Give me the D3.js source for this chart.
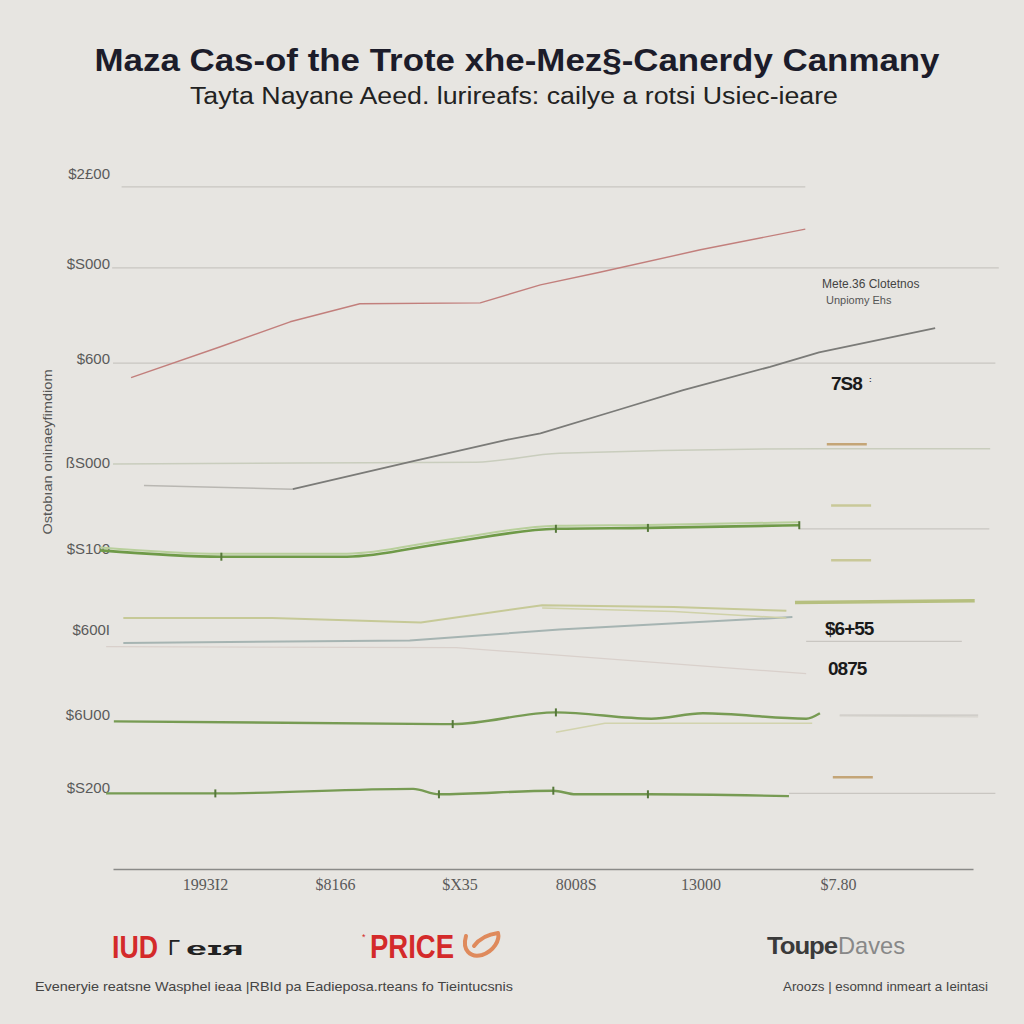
<!DOCTYPE html>
<html lang="en">
<head>
<meta charset="UTF-8">
<title>Maza Cas-of the Trote</title>
<style>
    body { margin: 0; background: #e7e5e1; }
    svg { display: block; }
    .tick-label { font-family: "Liberation Sans", Arial, sans-serif; font-size: 15px; fill: #5a5a5a; }
</style>
</head>
<body>
<svg id="chart" width="1024" height="1024"></svg>
<script src="https://d3js.org/d3.v7.min.js"></script>
<script>
// ---- data ----
var yTickValues = [773, 673, 567, 452, 356, 266, 171, 90];
var yTickLabels = ["$2£00", "$S000", "$600", "ßS000", "$S100", "$600I", "$6U00", "$S200"];
var xTickValues = [10.7, 25.8, 40.3, 53.8, 68.3, 84.3];
var xTickLabels = ["1993I2", "$8166", "$X35", "8008S", "13000", "$7.80"];
var gridValues = [758, 668, 562, 378, 253, 171, 84];

var redSeries = [[2.1, 546], [12.4, 580], [20.6, 608], [28.7, 628], [42.7, 629], [49.7, 649], [56.6, 663], [68.3, 688], [80.5, 711]];
var grayLead = [[3.6, 426], [20.9, 422]];
var graySeries = [[20.9, 422], [34.8, 453], [45.9, 477], [49.7, 484], [58.7, 510], [66.3, 532], [76.4, 558], [82.1, 574], [95.6, 601]];
var paleSeries = [[0, 450], [21.4, 451], [42.2, 452], [51.9, 462], [82.1, 467], [102, 467]];
var greenA = [[-1.5, 354], [12.6, 347], [27.2, 347], [38.5, 362], [51.5, 378], [62.2, 379], [79.8, 382]];
var khakiA = [[1.2, 279], [18.5, 279], [35.8, 274], [49.9, 293], [65.2, 291], [78.3, 287]];
var khakiB = [[49.9, 290], [65.2, 286], [78.3, 279]];
var khakiBar = [[79.3, 296], [100.2, 298]];
var blueSeries = [[1.2, 251], [34.5, 254], [51.9, 266], [79, 280]];
var pinkSeries = [[-0.8, 247], [39.9, 246], [80.6, 217]];
var greenB = [[0.1, 164], [39.5, 161], [51.5, 174], [62.6, 167], [68.6, 173], [80.6, 167], [82.2, 173]];
var greenBLight = [[51.5, 152], [57.2, 162], [81.3, 162]];
var greenBRight = [[84.5, 170], [100.6, 169]];
var greenC = [[-0.8, 84], [11.9, 84], [34.9, 89], [37.9, 83], [51.2, 87], [53.8, 83], [62.2, 83], [78.6, 81]];
var keyDashes = [[83, 472, "#c4a577"], [83.5, 404, "#c9c898"], [83.5, 343, "#c9c898"], [83.7, 102, "#c4a577"]];

// ---- scales ----
var svg = d3.select("#chart");
var x = d3.scaleLinear().domain([0, 100]).range([113, 973]);
var y = d3.scaleLinear().domain([0, 800]).range([869, 149]);

svg.append("rect").attr("width", 1024).attr("height", 1024).attr("fill", "#e7e5e1");

// titles
svg.append("text").attr("x", 517).attr("y", 71).attr("text-anchor", "middle")
    .attr("textLength", 845).attr("lengthAdjust", "spacingAndGlyphs")
    .style("font-family", "Liberation Sans, Arial, sans-serif").style("font-weight", "bold")
    .style("font-size", "32px").style("fill", "#1c1c2a")
    .text("Maza  Cas-of  the Trote xhe-Mez§-Canerdy Canmany");
svg.append("text").attr("x", 514).attr("y", 104).attr("text-anchor", "middle")
    .attr("textLength", 648).attr("lengthAdjust", "spacingAndGlyphs")
    .style("font-family", "Liberation Sans, Arial, sans-serif")
    .style("font-size", "23px").style("fill", "#222")
    .text("Tayta Nayane Aeed. lurireafs: cailye a rotsi Usiec-ieare");

// gridlines
var gridExtent = [[1, 80.5], [-0.1, 103], [0, 102.6], [79.8, 101.9], [80.6, 98.7], [84.5, 100.6], [78.6, 102.6]];
svg.append("g").selectAll("line").data(gridValues).enter().append("line")
    .attr("x1", (d, i) => x(gridExtent[i][0]))
    .attr("x2", (d, i) => x(gridExtent[i][1]))
    .attr("y1", d => y(d)).attr("y2", d => y(d))
    .attr("stroke", "#c9c6c1").attr("stroke-width", 1.2);

// axes
var yAxis = d3.axisLeft(y).tickValues(yTickValues).tickSize(0).tickFormat((d, i) => yTickLabels[i]);
var gy = svg.append("g").attr("transform", "translate(110,0)").call(yAxis);
gy.select(".domain").remove();
gy.selectAll("text").attr("class", "tick-label").attr("x", 0);

var xAxis = d3.axisBottom(x).tickValues(xTickValues).tickSize(0).tickFormat((d, i) => xTickLabels[i]);
var gx = svg.append("g").attr("transform", "translate(0," + y(0) + ")").call(xAxis);
gx.select(".domain").attr("stroke", "#8a8a88").attr("stroke-width", 1.5);
gx.selectAll("text").attr("class", "tick-label").attr("y", 10).attr("dy", "0.71em")
    .style("font-family", "Liberation Serif, serif").style("font-size", "16px");

// y title
svg.append("text").attr("transform", "translate(52,452) rotate(-90)").attr("text-anchor", "middle")
    .attr("textLength", 165).attr("lengthAdjust", "spacingAndGlyphs")
    .style("font-family", "Liberation Sans, Arial, sans-serif").style("font-size", "13px").style("fill", "#555")
    .text("Ostobıan oninaeyfimdiom");

// lines
var line = d3.line().x(d => x(d[0])).y(d => y(d[1]));
var smooth = d3.line().x(d => x(d[0])).y(d => y(d[1])).curve(d3.curveMonotoneX);

function draw(data, color, width, gen, shift) {
    svg.append("path").datum(data).attr("d", gen || line)
        .attr("fill", "none").attr("stroke", color).attr("stroke-width", width)
        .attr("stroke-linejoin", "round")
        .attr("transform", "translate(0," + (shift || 0) + ")");
}

draw(pinkSeries, "#d9d0cb", 1.2);
draw(paleSeries, "#c9cdbd", 1.5, smooth);
draw(grayLead, "#b9b7b2", 1.5);
draw(redSeries, "#c27f7c", 1.4);
draw(graySeries, "#7b7b78", 1.8);
draw(blueSeries, "#a6b4b2", 2);
draw(khakiA, "#c6c997", 2);
draw(khakiB, "#cfd1a8", 1.5);
draw(khakiBar, "#b6bf7f", 3.5);
draw(greenA, "#b8cf9b", 2, smooth, -3);
draw(greenA, "#6f9a48", 2.6, smooth);
draw(greenBLight, "#d2d3ad", 1.5);
draw(greenBRight, "#d6d3cd", 1.2);
draw(greenB, "#779b53", 2.4, smooth);
draw(greenC, "#779b53", 2.4, smooth);

// key dashes on the right
svg.append("g").selectAll("line").data(keyDashes).enter().append("line")
    .attr("x1", d => x(d[0])).attr("x2", d => x(d[0]) + 40)
    .attr("y1", d => y(d[1])).attr("y2", d => y(d[1]))
    .attr("stroke", d => d[2]).attr("stroke-width", 2.5);

// small markers on green lines
var markerPts = [greenA[1], greenA[4], greenA[5], greenA[6], greenB[1], greenB[2], greenC[1], greenC[3], greenC[4], greenC[6]];
svg.append("g").selectAll("line").data(markerPts).enter().append("line")
    .attr("x1", d => x(d[0])).attr("x2", d => x(d[0]))
    .attr("y1", d => y(d[1]) - 4).attr("y2", d => y(d[1]) + 4)
    .attr("stroke", "#56783a").attr("stroke-width", 2);

// right annotations
var note = svg.append("g").style("font-family", "Liberation Sans, Arial, sans-serif");
note.append("text").attr("x", 822).attr("y", 288).style("font-size", "12px").style("fill", "#444").text("Mete.36 Clotetnos");
note.append("text").attr("x", 826).attr("y", 304).style("font-size", "11px").style("fill", "#555").text("Unpiomy Ehs");
note.append("text").attr("x", 831).attr("y", 390).style("font-size", "19px").style("font-weight", "bold").style("fill", "#1a1a1a").attr("letter-spacing", "-1").text("7S8");
note.append("text").attr("x", 869).attr("y", 382).style("font-size", "8px").style("font-weight", "bold").style("fill", "#333").text(":");
note.append("text").attr("x", 825).attr("y", 635).style("font-size", "19px").style("font-weight", "bold").style("fill", "#1a1a1a").attr("letter-spacing", "-1").text("$6+55");
note.append("text").attr("x", 828).attr("y", 675).style("font-size", "19px").style("font-weight", "bold").style("fill", "#1a1a1a").attr("letter-spacing", "-1").text("0875");

// footer logos
var foot = svg.append("g").style("font-family", "Liberation Sans, Arial, sans-serif");
foot.append("text").attr("x", 112).attr("y", 958).attr("textLength", 46).attr("lengthAdjust", "spacingAndGlyphs")
    .style("font-size", "32px").style("font-weight", "bold").style("fill", "#d42a2a").text("IUD");
foot.append("text").attr("x", 168).attr("y", 955).style("font-size", "22px").style("fill", "#222").text("Γ");
foot.append("text").attr("x", 186).attr("y", 955).attr("textLength", 58).attr("lengthAdjust", "spacingAndGlyphs")
    .style("font-size", "18px").style("font-weight", "bold").style("fill", "#222").text("eɪя");
foot.append("text").attr("x", 362).attr("y", 940).style("font-size", "9px").style("fill", "#d42a2a").text("*");
foot.append("text").attr("x", 370).attr("y", 958).attr("textLength", 84).attr("lengthAdjust", "spacingAndGlyphs")
    .style("font-size", "34px").style("font-weight", "bold").style("fill", "#d42a2a").text("PRICE");
// orange swoosh mark next to PRICE
svg.append("path")
    .attr("d", "M466,936 C462,950 470,958 482,955 C494,951 500,940 498,933 M474,946 C480,938 490,934 498,933")
    .attr("fill", "none").attr("stroke", "#df8a5c").attr("stroke-width", 4).attr("stroke-linecap", "round");
foot.append("text").attr("x", 767).attr("y", 954).attr("textLength", 70).attr("lengthAdjust", "spacingAndGlyphs")
    .style("font-size", "24px").style("font-weight", "bold").style("fill", "#3a3a3a").attr("letter-spacing", "-1").text("Toupe");
foot.append("text").attr("x", 838).attr("y", 954).attr("textLength", 67).attr("lengthAdjust", "spacingAndGlyphs")
    .style("font-size", "24px").style("fill", "#888").text("Daves");

foot.append("text").attr("x", 35).attr("y", 991).attr("textLength", 478).attr("lengthAdjust", "spacingAndGlyphs")
    .style("font-size", "13px").style("fill", "#444")
    .text("Eveneryie reatsne Wasphel ieaa |RBId pa Eadieposa.rteans fo Tieintucsnis");
foot.append("text").attr("x", 783).attr("y", 991).attr("textLength", 205).attr("lengthAdjust", "spacingAndGlyphs")
    .style("font-size", "13px").style("fill", "#444")
    .text("Aroozs | esomnd inmeart a Ieintasi");
</script>
</body>
</html>
